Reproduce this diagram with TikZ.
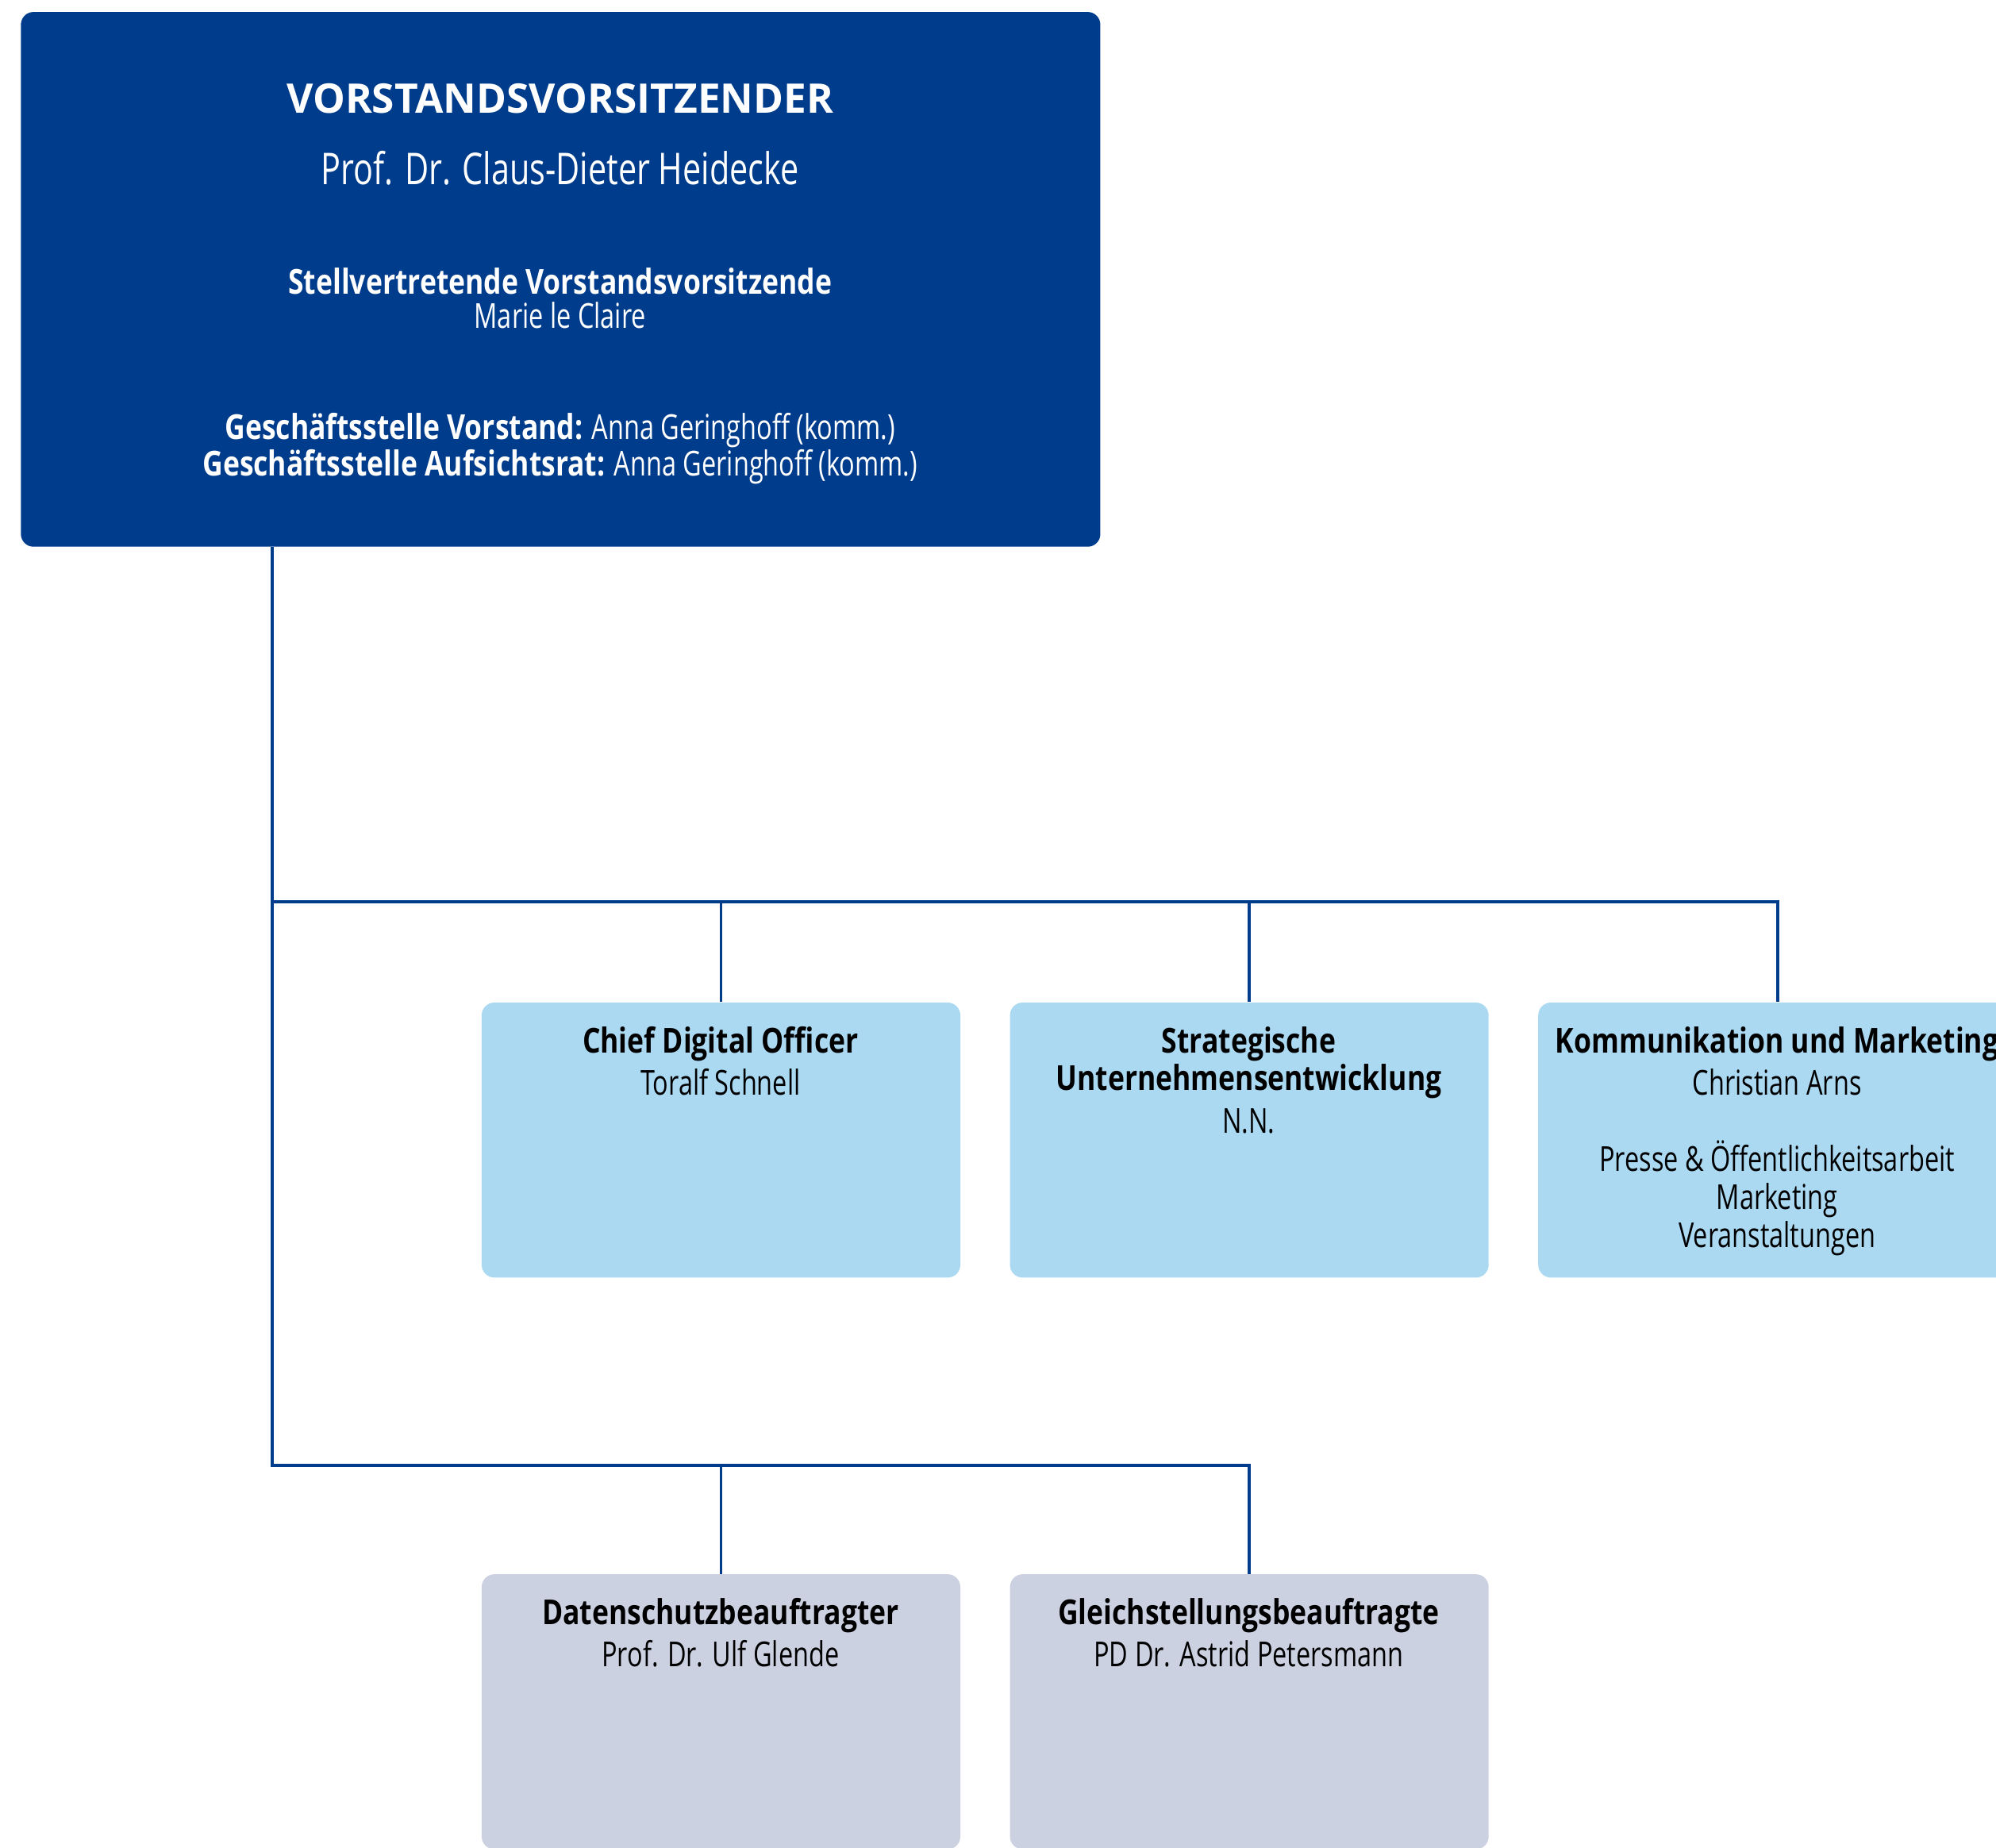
\documentclass[tikz,border=0pt]{standalone}
\usepackage{fontspec}
\setmainfont{Open Sans}[UprightFeatures={FakeStretch=0.75}, BoldFeatures={FakeStretch=0.82}]
\newfontfamily\titlefont{Open Sans}
\definecolor{dkblue}{HTML}{003C8C}
\definecolor{ltblue}{HTML}{ABD9F2}
\definecolor{greyblue}{HTML}{CCD1E1}
\begin{document}
\begin{tikzpicture}[x=0.5pt,y=-0.5pt,
  topbox/.style={fill=dkblue, rounded corners=5pt, minimum width=424pt, minimum height=210pt, anchor=north west, inner sep=0pt},
  bluebox/.style={fill=ltblue, rounded corners=5pt, minimum width=188pt, minimum height=108pt, anchor=north west, inner sep=0pt},
  greybox/.style={fill=greyblue, rounded corners=5pt, minimum width=188pt, minimum height=108pt, anchor=north west, inner sep=0pt},
  conn/.style={draw=dkblue, line width=1.2pt},
  wt/.style={anchor=base, inner sep=0pt, text=white, font=\fontsize{13.5pt}{16pt}\selectfont},
  bt/.style={anchor=base, inner sep=0pt, text=black, font=\fontsize{13.5pt}{16pt}\selectfont},
]
\useasboundingbox (0,0) rectangle (1568,1451);
% boxes
\node[topbox] (top) at (16,9) {};
\node[bluebox] (cdo) at (378,787) {};
\node[bluebox] (strat) at (793,787) {};
\node[bluebox] (komm) at (1208,787) {};
\node[greybox] (daten) at (378,1236) {};
\node[greybox] (gleich) at (793,1236) {};
% top texts
\node[wt, font=\titlefont\fontsize{16pt}{19pt}\selectfont\bfseries] (t1) at (440,89) {VORSTANDSVORSITZENDER};
\node[wt, font=\fontsize{17.2pt}{20pt}\selectfont] (t2) at (440,145) {Prof. Dr. Claus-Dieter Heidecke};
\node[wt, font=\fontsize{13.5pt}{16pt}\selectfont\bfseries] (t3) at (440,231) {Stellvertretende Vorstandsvorsitzende};
\node[wt] (t4) at (440,258) {Marie le Claire};
\node[wt] (t5) at (440,345) {\textbf{Geschäftsstelle Vorstand:} Anna Geringhoff (komm.)};
\node[wt] (t6) at (440,374) {\textbf{Geschäftsstelle Aufsichtsrat:} Anna Geringhoff (komm.)};
% blue box texts
\node[bt] (c1) at (566,827) {\textbf{Chief Digital Officer}};
\node[bt] (c2) at (566,860) {Toralf Schnell};
\node[bt] (s1) at (981,827) {\textbf{Strategische}};
\node[bt] (s2) at (981,856) {\textbf{Unternehmensentwicklung}};
\node[bt] (s3) at (981,890) {N.N.};
\node[bt] (k1) at (1396,827) {\textbf{Kommunikation und Marketing}};
\node[bt] (k2) at (1396,860) {Christian Arns};
\node[bt] (k3) at (1396,920) {Presse \& Öffentlichkeitsarbeit};
\node[bt] (k4) at (1396,950) {Marketing};
\node[bt] (k5) at (1396,980) {Veranstaltungen};
% grey box texts
\node[bt] (d1) at (566,1276) {\textbf{Datenschutzbeauftragter}};
\node[bt] (d2) at (566,1309) {Prof. Dr. Ulf Glende};
\node[bt] (g1) at (981,1276) {\textbf{Gleichstellungsbeauftragte}};
\node[bt] (g2) at (981,1309) {PD Dr. Astrid Petersmann};
% connectors
\coordinate (j1) at (214,708);
\coordinate (j2) at (214,1151);
\draw[conn] (top.south -| j1) -- (j2) -- (j2 -| gleich.north) -- (gleich.north);
\draw[conn] (j2 -| daten.north) -- (daten.north);
\draw[conn] (j1) -- (j1 -| komm.north) -- (komm.north);
\draw[conn] (j1 -| cdo.north) -- (cdo.north);
\draw[conn] (j1 -| strat.north) -- (strat.north);
\end{tikzpicture}
\end{document}
